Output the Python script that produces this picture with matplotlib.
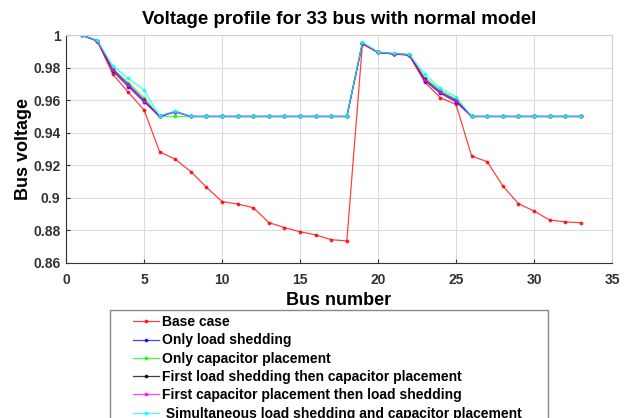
import numpy as np
import matplotlib
matplotlib.use('Agg')
from matplotlib import pyplot as plt
from matplotlib.patches import Rectangle

plt.rcParams['font.family'] = ['Liberation Sans', 'DejaVu Sans']

bus = np.arange(1, 34)

base_case = [1.0, 0.9965, 0.9759, 0.9648, 0.954, 0.9283, 0.9237, 0.9161, 0.9065, 0.8977,
             0.8962, 0.894, 0.8848, 0.8817, 0.8792, 0.8772, 0.8743, 0.8735,
             0.9945, 0.9894, 0.9883, 0.9877, 0.971, 0.9615, 0.9574,
             0.9257, 0.9222, 0.9073, 0.8964, 0.8919, 0.8864, 0.8852, 0.8847]
only_ls = [1.0, 0.9965, 0.9779, 0.9683, 0.959, 0.95, 0.953] + [0.95] * 11 + \
          [0.995, 0.9894, 0.9885, 0.9879, 0.972, 0.9642, 0.959] + [0.95] * 8
only_cp = [1.0, 0.9965, 0.9795, 0.9707, 0.9615, 0.95, 0.95] + [0.95] * 11 + \
          [0.995, 0.9895, 0.9886, 0.988, 0.9738, 0.9662, 0.9605] + [0.95] * 8
ls_then_cp = [1.0, 0.9965, 0.9787, 0.9695, 0.960, 0.95, 0.953] + [0.95] * 11 + \
             [0.995, 0.9894, 0.9885, 0.9879, 0.9728, 0.965, 0.9598] + [0.95] * 8
cp_then_ls = [1.0, 0.9965, 0.9785, 0.9693, 0.9598, 0.95, 0.953] + [0.95] * 11 + \
             [0.995, 0.9894, 0.9885, 0.9879, 0.9726, 0.9648, 0.9596] + [0.95] * 8
simultaneous = [1.0, 0.9967, 0.9812, 0.9734, 0.9662, 0.9505, 0.9533] + [0.95] * 11 + \
               [0.9955, 0.9896, 0.9888, 0.9882, 0.9759, 0.9673, 0.9621] + [0.95] * 8

series = [base_case, only_ls, only_cp, ls_then_cp, cp_then_ls, simultaneous]
labels = ['Base case', 'Only load shedding', 'Only capacitor placement',
          'First load shedding then capacitor placement',
          'First capacitor placement then load shedding',
          ' Simultaneous load shedding and capacitor placement']
colors = ['#ff0000', '#0000ff', '#00ff00', '#000000', '#ff00ff', '#00ffff']

fig = plt.figure(figsize=(6.29, 4.18), dpi=100)
ax = fig.add_axes([0.105, 0.371, 0.868, 0.545])

for y, lab, c in zip(series, labels, colors):
    ax.plot(bus, y, '.-', color=c, lw=0.9, ms=3.5, alpha=0.75, label=lab)

ax.set_xlim(0, 35)
ax.set_ylim(0.86, 1.0)
ax.set_xticks(np.arange(0, 36, 5))
ax.set_yticks([0.86, 0.88, 0.9, 0.92, 0.94, 0.96, 0.98, 1.0])
ax.set_yticklabels(['0.86', '0.88', '0.9', '0.92', '0.94', '0.96', '0.98', '1'])
ax.tick_params(direction='in', labelsize=10, top=False, right=False, length=3, colors='#333333')
ax.tick_params(axis='x', pad=7)
ax.tick_params(axis='y', pad=4)
for t in ax.get_xticklabels() + ax.get_yticklabels():
    t.set_fontweight('bold')
ax.grid(True, color='#dcdcdc', lw=0.8)
ax.set_axisbelow(True)
for s in ax.spines.values():
    s.set_color('#d0d0d0')
ax.spines['left'].set_color('#333333')
ax.spines['bottom'].set_color('#333333')

ax.set_title('Voltage profile for 33 bus with normal model', fontsize=13.5, fontweight='bold', pad=8)
ax.set_xlabel('Bus number', fontsize=13, fontweight='bold', labelpad=4)
ax.set_ylabel('Bus voltage', fontsize=13, fontweight='bold', labelpad=1)

# legend box (runs off the bottom of the figure)
fig.patches.append(Rectangle((110 / 629, -0.05), (548 - 110) / 629, 0.05 + 1 - 310 / 418,
                             transform=fig.transFigure, fill=False, ec='#888888', lw=1))
leg_lines = [plt.Line2D([], [], color=c, marker='.', lw=0.9, ms=3.5, alpha=0.75) for c in colors]
fig.legend(leg_lines, labels, loc='upper left', bbox_to_anchor=(131 / 629, 1 - 313 / 418),
           frameon=False, prop={'weight': 'bold', 'size': 10}, handlelength=1.9,
           handletextpad=0.15, labelspacing=0.31, borderpad=0.15, borderaxespad=0)

fig.savefig('out.png', dpi=100)
